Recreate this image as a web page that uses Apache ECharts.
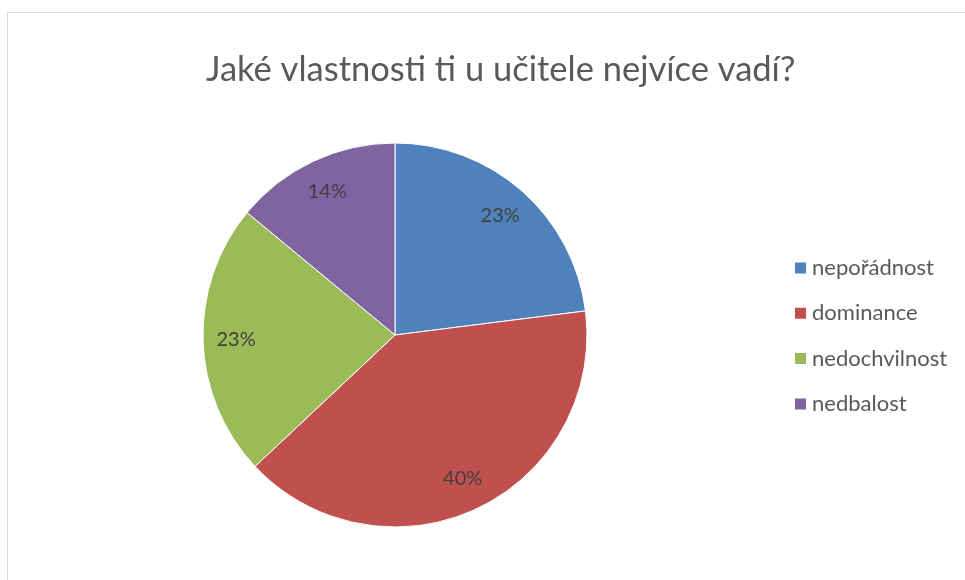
<!DOCTYPE html>
<html>
<head>
<meta charset="utf-8">
<script src="https://cdn.jsdelivr.net/npm/echarts@6/dist/echarts.min.js"></script>
<style>
html,body{margin:0;padding:0;background:#fff;}
#c{width:965px;height:580px;}
</style>
</head>
<body>
<div id="c"></div>
<script>
var titleText = 'Jaké vlastnosti ti u učitele nejvíce vadí?';
var categories = ['nepořádnost', 'dominance', 'nedochvilnost', 'nedbalost'];
var values = [23, 40, 23, 14];
var colors = ['#4f81bd', '#c0504d', '#9bbb59', '#8064a2'];

var data = categories.map(function (c, i) {
  return { name: c, value: values[i], itemStyle: { color: colors[i] } };
});
var font = 'Lato, "Open Sans", sans-serif';
var chart = echarts.init(document.getElementById('c'));
chart.setOption({
  animation: false,
  graphic: [{
    type: 'rect', silent: true,
    shape: { x: 7.5, y: 12.5, width: 1000, height: 700 },
    style: { fill: 'none', stroke: '#d9d9d9', lineWidth: 1 }
  }],
  title: {
    text: titleText, left: 206, top: 52, padding: 0,
    textStyle: { fontFamily: font, fontSize: 34.5, fontWeight: 'normal', color: '#595959' }
  },
  legend: {
    orient: 'vertical', left: 793, top: 257, padding: 0,
    itemWidth: 13, itemHeight: 13, itemGap: 23.3, icon: 'rect',
    data: categories,
    textStyle: { fontFamily: font, fontSize: 22, color: '#595959', lineHeight: 20 }
  },
  series: [{
    type: 'pie', center: [395, 335], radius: [0, 192], startAngle: 90, clockwise: true,
    data: data, silent: true,
    itemStyle: { borderColor: '#fff', borderWidth: 1 },
    label: { show: false }, labelLine: { show: false }
  }, {
    type: 'pie', center: [395, 335], radius: [120, 192], startAngle: 90, clockwise: true,
    data: data.map(function (d) { return { name: d.name, value: d.value, itemStyle: { color: 'rgba(0,0,0,0)' } }; }),
    silent: true, legendHoverLink: false,
    itemStyle: { borderWidth: 0 },
    label: {
      show: true, position: 'inside',
      formatter: function (p) { return p.value + '%'; },
      fontFamily: font, fontSize: 20, color: '#404040'
    },
    labelLine: { show: false }
  }]
});
</script>
</body>
</html>
